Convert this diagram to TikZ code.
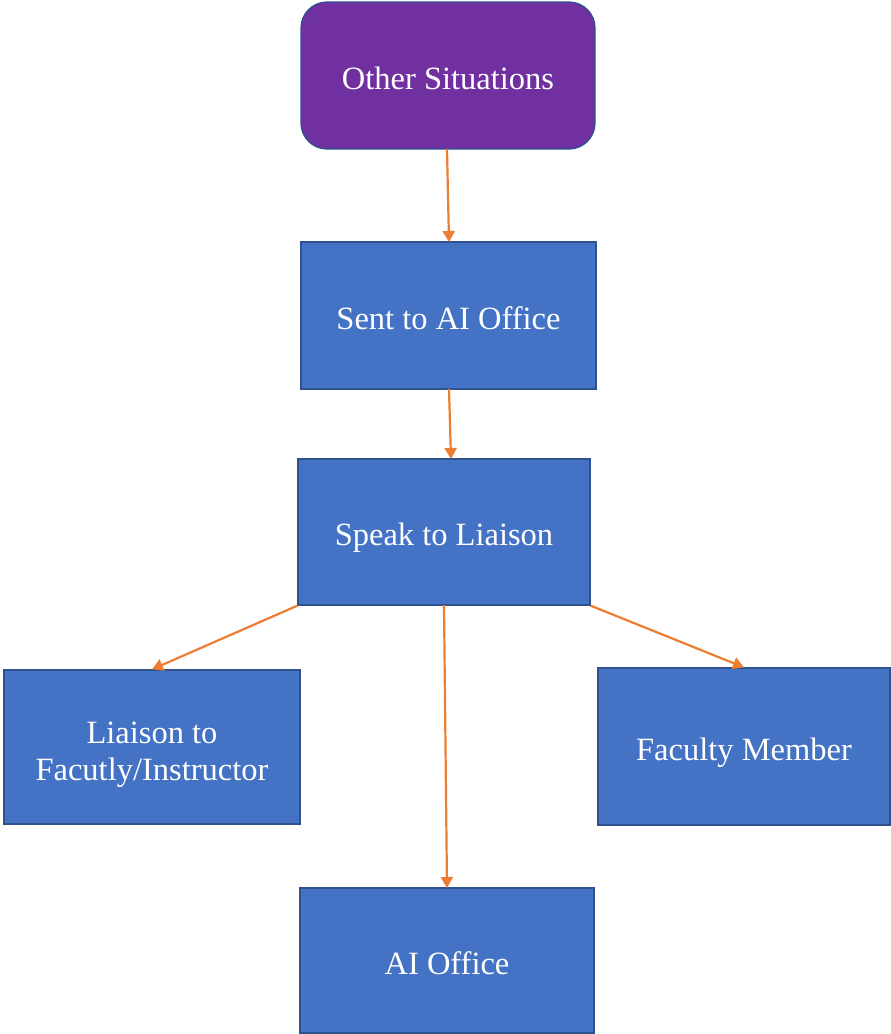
\documentclass[tikz,border=0pt]{standalone}
\usepackage{fontspec}
\setmainfont{Liberation Serif}
\usetikzlibrary{arrows.meta}
\definecolor{boxblue}{HTML}{4472C4}
\definecolor{boxborder}{HTML}{2F528F}
\definecolor{purp}{HTML}{7030A0}
\definecolor{arrorange}{HTML}{ED7D31}
\begin{document}
\begin{tikzpicture}[x=1pt,y=-1pt,
  box/.style={draw=boxborder,line width=1.3pt,fill=boxblue,text=white,font=\fontsize{32.5}{37}\selectfont,inner sep=0pt},
  one/.style={text height=27pt,text depth=0pt},
  conn/.style={draw=arrorange,line width=2.2pt,-{Triangle[width=12pt,length=11pt]}}]
\useasboundingbox (0,0) rectangle (891,1034);
\node[box,one,fill=purp,rounded corners=26pt,minimum width=294pt,minimum height=147pt] (os) at (448,75.5) {Other Situations};
\node[box,one,minimum width=295pt,minimum height=147pt] (sent) at (448.5,315.5) {Sent to AI Office};
\node[box,one,minimum width=292pt,minimum height=146pt] (speak) at (444,532) {Speak to Liaison};
\node[box,minimum width=296pt,minimum height=154pt] (liai) at (152,747) {\raisebox{-14pt}[35pt][35pt]{\begin{tabular}{@{}c@{}}Liaison to\\Facutly/Instructor\end{tabular}}};
\node[box,one,minimum width=292pt,minimum height=157pt] (fac) at (744,746.5) {Faculty Member};
\node[box,one,minimum width=294pt,minimum height=145pt] (ai) at (447,960.5) {AI Office};
\coordinate (a1) at (447,149);
\coordinate (b1) at (449,242);
\draw[conn] (a1) -- (b1);
\coordinate (a2) at (449,389);
\coordinate (b2) at (451,459);
\draw[conn] (a2) -- (b2);
\draw[conn] (speak.south west) -- (liai.north);
\coordinate (a4) at (444,605);
\coordinate (b4) at (447,888);
\draw[conn] (a4) -- (b4);
\draw[conn] (speak.south east) -- (fac.north);
\end{tikzpicture}
\end{document}
